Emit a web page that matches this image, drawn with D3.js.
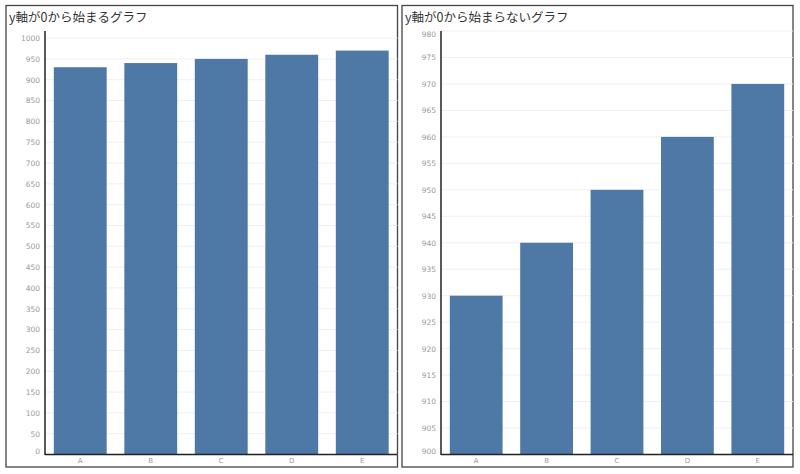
<!DOCTYPE html>
<html lang="ja">
<head>
    <meta charset="UTF-8">
    <title>y軸のグラフ</title>
    <script src="https://d3js.org/d3.v7.min.js"></script>
    <style>
        body { margin: 0; background: #fff; }
        .tick text { font-family: "DejaVu Sans", sans-serif; font-size: 7.5px; fill: #9a9a9a; }
        .title { font-family: "Noto Sans CJK JP", sans-serif; font-size: 12.5px; fill: #333; }
    </style>
</head>
<body>
    <svg width="800" height="474"></svg>
    <script>
        // データ
        var categories = ["A", "B", "C", "D", "E"];
        var values = [930, 940, 950, 960, 970];
        var leftTicks = d3.range(0, 1001, 50);
        var rightTicks = d3.range(900, 981, 5);

        var svg = d3.select("svg");

        function panel(opts) {
            var g = svg.append("g");

            // 枠
            g.append("rect")
                .attr("x", opts.x0).attr("y", 5.5)
                .attr("width", opts.x1 - opts.x0).attr("height", 461.5)
                .attr("fill", "none")
                .attr("stroke", "#444")
                .attr("stroke-width", 1.3);

            g.append("text")
                .attr("class", "title")
                .attr("x", opts.x0 + 3)
                .attr("y", 22)
                .text(opts.title);

            var x = d3.scaleBand()
                .domain(categories)
                .range([opts.axisX, opts.x1])
                .paddingInner(0.25)
                .paddingOuter(0.125);

            var y = d3.scaleLinear()
                .domain(opts.domain)
                .range([454.5, 31]);

            // グリッド
            g.selectAll(".grid")
                .data(opts.ticks)
                .enter().append("line")
                .attr("x1", opts.axisX).attr("x2", opts.x1)
                .attr("y1", function(d) { return y(d); })
                .attr("y2", function(d) { return y(d); })
                .attr("stroke", "#f0f0f0");

            g.selectAll(".bar")
                .data(values)
                .enter().append("rect")
                .attr("x", function(d, i) { return x(categories[i]); })
                .attr("y", function(d) { return y(d); })
                .attr("width", x.bandwidth())
                .attr("height", function(d) { return y(opts.domain[0]) - y(d); })
                .attr("fill", "#4e79a7");

            // y軸ラベル
            var n = opts.ticks.length;
            var yAxis = d3.axisLeft(y).tickValues(opts.ticks).tickFormat(d3.format("d"))
                .tickSize(0).tickPadding(5);
            var ya = g.append("g")
                .attr("transform", "translate(" + opts.axisX + ",0)")
                .call(yAxis);
            ya.select(".domain").remove();
            ya.selectAll(".tick text")
                .attr("dy", function(d, i) {
                    if (i === 0) return "-0.2em";
                    if (i === n - 1 && opts.pushTop) return "0.75em";
                    return "0.32em";
                });

            // x軸ラベル
            var xa = g.append("g")
                .attr("transform", "translate(0,454.5)")
                .call(d3.axisBottom(x).tickSize(0).tickPadding(4));
            xa.select(".domain").remove();
            xa.selectAll(".tick text").style("font-size", "7px");

            // 軸線
            g.append("line")
                .attr("x1", opts.axisX).attr("x2", opts.x1)
                .attr("y1", 454.5).attr("y2", 454.5)
                .attr("stroke", "#222").attr("stroke-width", 1.5);
            g.append("line")
                .attr("x1", opts.axisX).attr("x2", opts.axisX)
                .attr("y1", 31).attr("y2", 455)
                .attr("stroke", "#222").attr("stroke-width", 1.5);
        }

        panel({ x0: 6, x1: 397.5, axisX: 45, domain: [0, 1017], ticks: leftTicks, title: "y軸が0から始まるグラフ", pushTop: false });
        panel({ x0: 402, x1: 793, axisX: 441, domain: [900, 980], ticks: rightTicks, title: "y軸が0から始まらないグラフ", pushTop: true });
    </script>
</body>
</html>
